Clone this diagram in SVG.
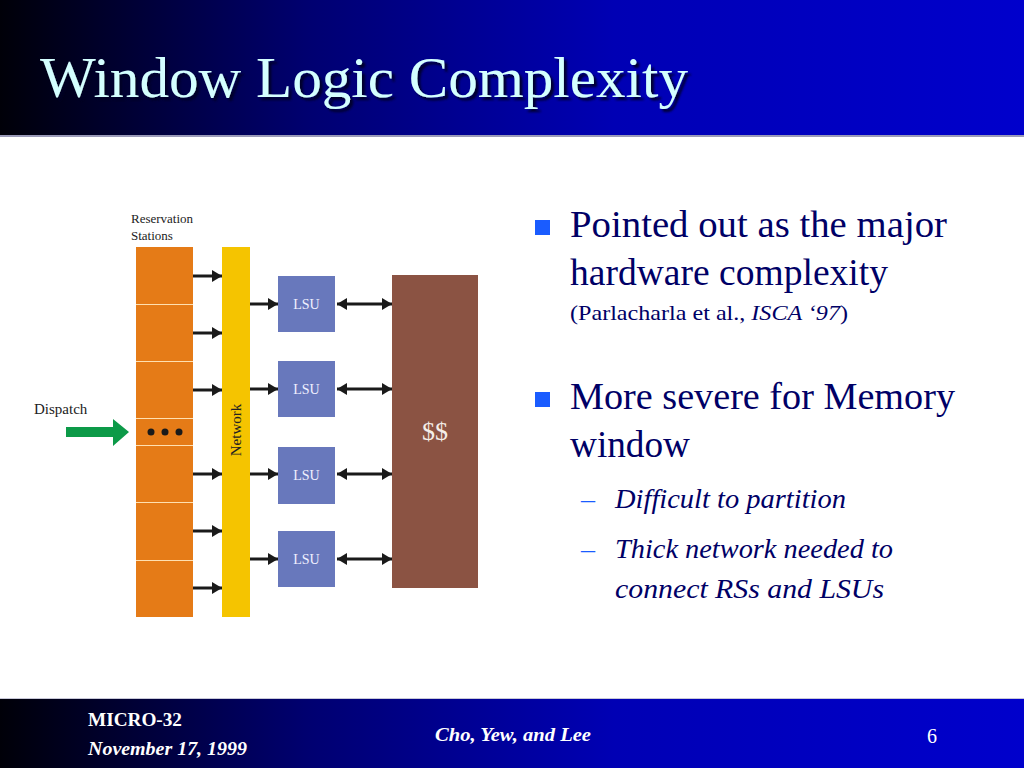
<svg xmlns="http://www.w3.org/2000/svg" width="1024" height="768" viewBox="0 0 1024 768">
<defs>
<linearGradient id="band" x1="0" y1="0" x2="1" y2="0">
<stop offset="0" stop-color="#000008"/>
<stop offset="0.3" stop-color="#000070"/>
<stop offset="0.6" stop-color="#0000B4"/>
<stop offset="1" stop-color="#0000CC"/>
</linearGradient>
<marker id="ah" viewBox="0 0 10 12" refX="10" refY="6" markerWidth="10" markerHeight="12" markerUnits="userSpaceOnUse" orient="auto-start-reverse">
<path d="M0,0 L10,6 L0,12 z" fill="#1a1a1a"/>
</marker>
<filter id="sh" x="-5%" y="-20%" width="115%" height="150%">
<feDropShadow dx="3" dy="3" stdDeviation="1" flood-color="#000020" flood-opacity="0.9"/>
</filter>
</defs>
<style>
.serif{font-family:"Liberation Serif","DejaVu Serif",serif}
.body{font-family:"Liberation Serif","DejaVu Serif",serif;fill:#000066}
.lsu rect{fill:#6878BC}
.lsu text{font-family:"Liberation Serif",serif;font-size:14px;fill:#F0F0FF;text-anchor:middle}
.conn line{stroke:#1a1a1a;stroke-width:3}
.foot{font-family:"Liberation Serif",serif;fill:#FFFFFF;font-weight:bold}
</style>
<rect x="0" y="0" width="1024" height="768" fill="#FFFFFF"/>
<!-- header -->
<rect x="0" y="0" width="1024" height="135" fill="url(#band)"/>
<rect x="0" y="135" width="1024" height="2" fill="#9A9AB8"/>
<text x="40" y="97" class="serif" font-size="56" fill="#D4FFFF" textLength="648" lengthAdjust="spacingAndGlyphs" filter="url(#sh)">Window Logic Complexity</text>
<!-- footer -->
<rect x="0" y="699" width="1024" height="69" fill="url(#band)"/>
<rect x="0" y="698" width="1024" height="1" fill="#C8C8D8"/>
<text x="88" y="726" class="foot" font-size="18" textLength="94" lengthAdjust="spacingAndGlyphs">MICRO-32</text>
<text x="88" y="755" class="foot" font-size="18" font-style="italic" textLength="159" lengthAdjust="spacingAndGlyphs">November 17, 1999</text>
<text x="435" y="741" class="foot" font-size="18" font-style="italic" textLength="156" lengthAdjust="spacingAndGlyphs">Cho, Yew, and Lee</text>
<text x="927" y="743" class="serif" font-size="20" fill="#FFFFFF">6</text>

<!-- Reservation stations -->
<g id="rs">
<text x="131" y="223" class="serif" font-size="13" fill="#222">Reservation</text>
<text x="131" y="240" class="serif" font-size="13" fill="#222">Stations</text>
<rect x="136" y="247" width="57" height="370" fill="#E57B17"/>
<g stroke="#FFE0B0" stroke-width="1">
<line x1="136" y1="304.5" x2="193" y2="304.5"/>
<line x1="136" y1="361.5" x2="193" y2="361.5"/>
<line x1="136" y1="418.5" x2="193" y2="418.5"/>
<line x1="136" y1="445.5" x2="193" y2="445.5"/>
<line x1="136" y1="502.5" x2="193" y2="502.5"/>
<line x1="136" y1="560.5" x2="193" y2="560.5"/>
</g>
<circle cx="151" cy="432" r="3.5" fill="#1a1a1a"/>
<circle cx="165" cy="432" r="3.5" fill="#1a1a1a"/>
<circle cx="179" cy="432" r="3.5" fill="#1a1a1a"/>
</g>
<g id="dispatch">
<text x="34" y="414" class="serif" font-size="15" fill="#222">Dispatch</text>
<path d="M66,427 L113,427 L113,419 L129,432 L113,446 L113,437 L66,437 z" fill="#0C9A48"/>
</g>
<g id="network">
<rect x="222" y="247" width="28" height="370" fill="#F5C400"/>
<text transform="translate(241,430) rotate(-90)" class="serif" font-size="15" fill="#222" text-anchor="middle">Network</text>
</g>
<g id="lsu1" class="lsu"><rect x="278" y="276" width="57" height="56"/><text x="306.5" y="309">LSU</text></g>
<g id="lsu2" class="lsu"><rect x="278" y="361" width="57" height="56"/><text x="306.5" y="394">LSU</text></g>
<g id="lsu3" class="lsu"><rect x="278" y="447" width="57" height="57"/><text x="306.5" y="480">LSU</text></g>
<g id="lsu4" class="lsu"><rect x="278" y="531" width="57" height="56"/><text x="306.5" y="564">LSU</text></g>
<g id="cache">
<rect x="392" y="275" width="86" height="313" fill="#8B5343"/>
<text x="435" y="440" class="serif" font-size="26" fill="#F4EEE8" text-anchor="middle">$$</text>
</g>
<g id="connectors" class="conn">
<line x1="193" y1="276" x2="222" y2="276" marker-end="url(#ah)"/>
<line x1="193" y1="333" x2="222" y2="333" marker-end="url(#ah)"/>
<line x1="193" y1="390" x2="222" y2="390" marker-end="url(#ah)"/>
<line x1="193" y1="474" x2="222" y2="474" marker-end="url(#ah)"/>
<line x1="193" y1="531" x2="222" y2="531" marker-end="url(#ah)"/>
<line x1="193" y1="588" x2="222" y2="588" marker-end="url(#ah)"/>
<line x1="250" y1="304" x2="278" y2="304" marker-end="url(#ah)"/>
<line x1="250" y1="389" x2="278" y2="389" marker-end="url(#ah)"/>
<line x1="250" y1="474" x2="278" y2="474" marker-end="url(#ah)"/>
<line x1="250" y1="559" x2="278" y2="559" marker-end="url(#ah)"/>
<line x1="337" y1="304" x2="392" y2="304" marker-start="url(#ah)" marker-end="url(#ah)"/>
<line x1="337" y1="389" x2="392" y2="389" marker-start="url(#ah)" marker-end="url(#ah)"/>
<line x1="337" y1="474" x2="392" y2="474" marker-start="url(#ah)" marker-end="url(#ah)"/>
<line x1="337" y1="559" x2="392" y2="559" marker-start="url(#ah)" marker-end="url(#ah)"/>
</g>

<!-- bullets -->
<g id="bullets">
<rect x="535" y="220" width="15" height="15" fill="#1A5CFF"/>
<rect x="535" y="392" width="15" height="15" fill="#1A5CFF"/>
<text x="570" y="237" class="body" font-size="37" textLength="377" lengthAdjust="spacingAndGlyphs">Pointed out as the major</text>
<text x="570" y="285" class="body" font-size="37" textLength="318" lengthAdjust="spacingAndGlyphs">hardware complexity</text>
<text x="570" y="320" class="body" font-size="22" textLength="278" lengthAdjust="spacingAndGlyphs">(Parlacharla et al., <tspan font-style="italic">ISCA ‘97</tspan>)</text>
<text x="570" y="409" class="body" font-size="37" textLength="385" lengthAdjust="spacingAndGlyphs">More severe for Memory</text>
<text x="570" y="457" class="body" font-size="37" textLength="120" lengthAdjust="spacingAndGlyphs">window</text>
<text x="581" y="508" class="serif" font-size="28" fill="#1A5CFF">–</text>
<text x="581" y="558" class="serif" font-size="28" fill="#1A5CFF">–</text>
<text x="615" y="508" class="body" font-size="28" font-style="italic" textLength="231" lengthAdjust="spacingAndGlyphs">Difficult to partition</text>
<text x="615" y="558" class="body" font-size="28" font-style="italic" textLength="278" lengthAdjust="spacingAndGlyphs">Thick network needed to</text>
<text x="615" y="598" class="body" font-size="28" font-style="italic" textLength="269" lengthAdjust="spacingAndGlyphs">connect RSs and LSUs</text>
</g>
</svg>
